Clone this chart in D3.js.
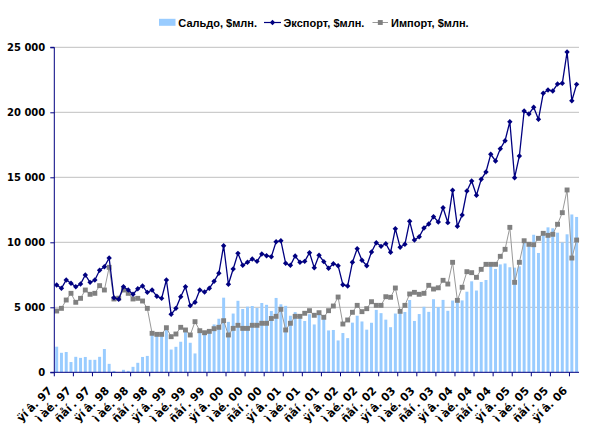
<!DOCTYPE html>
<html><head><meta charset="utf-8">
<script src="https://cdn.jsdelivr.net/npm/d3@7/dist/d3.min.js"></script>
<style>
html,body{margin:0;padding:0;background:#fff;}
svg{display:block;}
</style></head>
<body>
<svg id="chart" width="589" height="426"></svg>
<script>
// Monthly data, Jan 1997 .. Feb 2006 ($ mln)
const exportVals = [6715,6460,7100,6845,6585,6790,7485,6920,7100,7845,8120,8790,
  5740,5615,6585,6330,6000,6430,6640,6150,6330,5845,5690,7100,
  4460,4920,5815,6585,5125,5385,6330,6175,6460,7000,7615,9740,
  6770,7945,9150,8230,8460,8715,8535,9100,8970,8890,10045,10120,
  8385,8230,8945,8460,8535,9200,8045,9000,8510,8000,8355,8200,
  6740,6640,8460,9510,8615,8200,9255,9970,9690,9895,9230,11045,
  9615,9845,11615,10175,10430,11100,11405,11970,11560,12660,11510,14000,
  11230,12100,13945,14715,13615,14845,15410,16770,16255,17200,17815,19275,
  14970,16640,20100,19870,20385,19460,21460,21715,21640,22175,22230,24640,
  20890,22150];
const importVals = [4715,4920,5560,6075,5385,5690,6330,6000,6075,6665,6330,8075,
  5640,5700,6330,6075,5640,5690,5485,4920,3000,2920,2920,3430,
  2740,2945,3460,3255,2870,3895,3200,3045,3150,3355,3460,3970,
  2870,3380,3615,3380,3380,3615,3615,3770,3770,4140,4305,4845,
  3255,3770,4305,4305,4540,4740,4385,4585,4230,4740,5100,5790,
  3715,4025,4615,5150,4665,4895,5430,5150,5150,5815,5770,6485,
  4690,5150,6025,6150,6000,6075,6690,6405,6500,7075,6790,8460,
  5535,6540,7740,7665,7305,7920,8305,8305,8305,8920,9460,11150,
  6920,8460,10120,9845,9815,10305,10690,10535,10615,11385,12280,14025,
  8790,10175];
const saldoVals = [1970,1500,1560,790,1190,1110,1180,960,960,1190,1790,650,
  110,0,190,110,420,730,1180,1260,3000,2850,2800,3300,
  1750,1960,2350,3150,2270,1450,3100,3100,3250,3680,4120,5740,
  3880,4520,5500,4870,5050,5100,4950,5330,5190,4720,5720,5230,
  5110,4350,4630,4350,3950,4470,3680,4410,4150,3220,3255,2450,
  3020,2630,3820,4350,3910,3280,3810,4800,4550,4050,3470,4520,
  4610,4640,5560,3950,4480,5040,4650,5620,5020,5570,4730,5520,
  5400,5530,6200,7000,6290,6950,7100,8200,7950,8300,8370,8080,
  8050,8150,9950,9950,10580,9180,10600,11150,11080,10740,9990,10615,
  12140,11950];
const tickLabels = ["ÿíâ. 97","ìàé. 97","ñåí. 97","ÿíâ. 98","ìàé. 98","ñåí. 98",
  "ÿíâ. 99","ìàé. 99","ñåí. 99","ÿíâ. 00","ìàé. 00","ñåí. 00",
  "ÿíâ. 01","ìàé. 01","ñåí. 01","ÿíâ. 02","ìàé. 02","ñåí. 02",
  "ÿíâ. 03","ìàé. 03","ñåí. 03","ÿíâ. 04","ìàé. 04","ñåí. 04",
  "ÿíâ. 05","ìàé. 05","ñåí. 05","ÿíâ. 06"];
const yTicks = [0,5000,10000,15000,20000,25000];
const seriesNames = ["Сальдо, $млн.","Экспорт, $млн.","Импорт, $млн."];

const svg = d3.select("#chart");
const pLeft = 54.3, pRight = 579, pTop = 47.3, pBottom = 372.3;
const n = exportVals.length;
const x = d3.scaleBand().domain(d3.range(n)).range([pLeft, pRight]).paddingInner(0.38).paddingOuter(0.19);
const step = x.step();
const cx = i => x(i) + x.bandwidth()/2;
const y = d3.scaleLinear().domain([0,25000]).range([pBottom, pTop]);
const fmt = v => d3.format(",")(v).replace(/,/g," ");

// gridlines
svg.append("g").selectAll("line").data(yTicks.filter(d=>d>0)).join("line")
  .attr("x1", pLeft).attr("x2", pRight).attr("y1", d=>y(d)).attr("y2", d=>y(d))
  .attr("stroke", "#c0c0c0").attr("stroke-width", 1);

// bars
svg.append("g").selectAll("rect").data(saldoVals).join("rect")
  .attr("x", (d,i)=>x(i)).attr("width", x.bandwidth())
  .attr("y", d=>y(Math.max(0,d))).attr("height", d=>pBottom - y(Math.max(0,d)))
  .attr("fill", "#99ccff");

// import line
const lineGen = d3.line().x((d,i)=>cx(i)).y(d=>y(d));
svg.append("path").datum(importVals).attr("d", lineGen)
  .attr("fill","none").attr("stroke","#999999").attr("stroke-width",1);
svg.append("g").selectAll("path").data(importVals).join("path")
  .attr("d", d3.symbol(d3.symbolSquare, 24))
  .attr("transform",(d,i)=>`translate(${cx(i)},${y(d)})`)
  .attr("fill","#808080");

// export line
svg.append("path").datum(exportVals).attr("d", lineGen)
  .attr("fill","none").attr("stroke","#000080").attr("stroke-width",1.3);
const diamond = "M0,-2.7L2.7,0L0,2.7L-2.7,0Z";
svg.append("g").selectAll("path").data(exportVals).join("path")
  .attr("d", diamond)
  .attr("transform",(d,i)=>`translate(${cx(i)},${y(d)})`)
  .attr("fill","#000080");

// y axis
const yAxis = d3.axisLeft(y).tickValues(yTicks).tickSize(4).tickPadding(5).tickFormat(fmt);
const gy = svg.append("g").attr("transform",`translate(${pLeft},0)`).call(yAxis);
gy.select(".domain").attr("stroke","#000080").attr("d",`M-4,${pTop}H0V${pBottom}H-4`);
gy.selectAll(".tick line").attr("stroke","#000080");
gy.selectAll("text").attr("font-family","DejaVu Sans, Verdana, sans-serif")
  .attr("font-weight","bold").attr("font-size",10).attr("fill","#000");

// x axis
const tickIdx = tickLabels.map((d,k)=>k*4);
const gx = svg.append("g");
gx.append("line").attr("x1",pLeft).attr("x2",pRight).attr("y1",pBottom).attr("y2",pBottom)
  .attr("stroke","#000080").attr("stroke-width",1);
gx.selectAll("line.t").data(tickIdx).join("line").attr("class","t")
  .attr("x1",i=>x(i)-step*0.19).attr("x2",i=>x(i)-step*0.19)
  .attr("y1",pBottom).attr("y2",pBottom+4).attr("stroke","#000080");
// split each label where the original rendering shows a wider glyph gap
const splitLabel = s => {
  const p = s.startsWith("ÿí") ? 2 : s.startsWith("ì") ? 1 : 3;
  return [s.slice(0,p), s.slice(p)];
};
gx.selectAll("text").data(tickLabels).join("text")
  .attr("transform",(d,k)=>`translate(${x(k*4)-step*0.19-1.5},${pBottom+19}) rotate(-45)`)
  .attr("text-anchor","end")
  .attr("font-family","DejaVu Sans, Verdana, sans-serif")
  .attr("font-weight","bold").attr("font-size",11).attr("fill","#000")
  .each(function(d){
    const parts = splitLabel(d);
    const t = d3.select(this);
    t.append("tspan").text(parts[0]);
    t.append("tspan").attr("dx",2.5).text(parts[1]);
  });

// legend
const lg = svg.append("g").attr("font-family","Liberation Sans, Arial, sans-serif")
  .attr("font-weight","bold").attr("font-size",11);
lg.append("rect").attr("x",159).attr("y",18.8).attr("width",16.5).attr("height",7).attr("fill","#99ccff");
lg.append("text").attr("x",178.3).attr("y",26.5).text(seriesNames[0]);
lg.append("line").attr("x1",264).attr("x2",281).attr("y1",22.5).attr("y2",22.5).attr("stroke","#000080").attr("stroke-width",1.2);
lg.append("path").attr("d",diamond).attr("transform","translate(272.5,22.5)").attr("fill","#000080");
lg.append("text").attr("x",283.5).attr("y",26.5).text(seriesNames[1]);
lg.append("line").attr("x1",372.5).attr("x2",388).attr("y1",22.5).attr("y2",22.5).attr("stroke","#999999");
lg.append("path").attr("d",d3.symbol(d3.symbolSquare,24)).attr("transform","translate(380.3,22.5)").attr("fill","#808080");
lg.append("text").attr("x",391).attr("y",26.5).text(seriesNames[2]);
</script>
</body></html>
